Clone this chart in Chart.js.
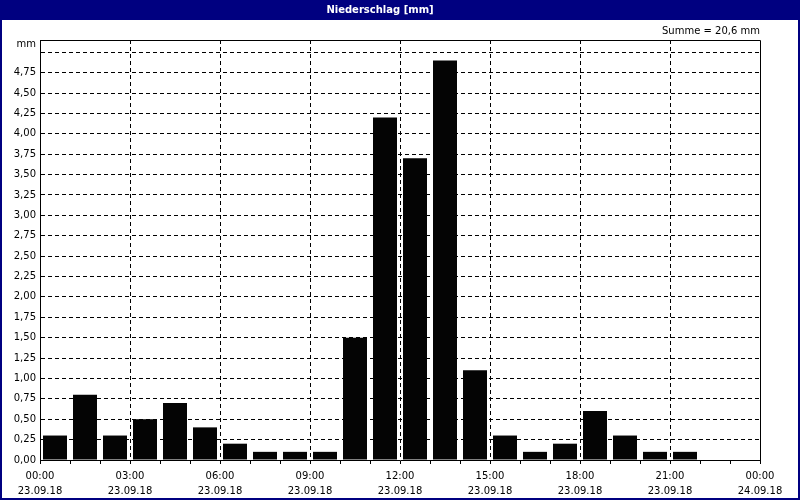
<!DOCTYPE html>
<html>
<head>
<meta charset="utf-8">
<script src="https://cdn.jsdelivr.net/npm/chart.js@4"></script>
<style>
  html, body { margin: 0; padding: 0; background: #fff; }
  #wrap { width: 800px; height: 500px; }
</style>
</head>
<body>
<div id="wrap"><canvas id="regenChart" width="800" height="500"></canvas></div>
<script>
// Stunden (Beginn des Intervalls) und Niederschlag je Stunde in mm
const stunden = [0, 1, 2, 3, 4, 5, 6, 7, 8, 9, 10, 11, 12, 13, 14, 15, 16, 17, 18, 19, 20, 21, 22, 23];
const niederschlag = [0.3, 0.8, 0.3, 0.5, 0.7, 0.4, 0.2, 0.1, 0.1, 0.1, 1.5, 4.2, 3.7, 4.9, 1.1, 0.3, 0.1, 0.2, 0.6, 0.3, 0.1, 0.1, 0, 0];
const datumStart = "23.09.18";
const datumEnde = "24.09.18";
const yTicks = [0, 0.25, 0.5, 0.75, 1, 1.25, 1.5, 1.75, 2, 2.25, 2.5, 2.75, 3, 3.25, 3.5, 3.75, 4, 4.25, 4.5, 4.75, 5];
const einheitPos = 5.09;
const summe = "Summe = 20,6 mm";

const FONT = "'DejaVu Sans', Verdana, sans-serif";

const rahmen = {
    id: "rahmen",
    beforeDraw(chart) {
        const ctx = chart.ctx;
        ctx.save();
        ctx.fillStyle = "#ffffff";
        ctx.fillRect(0, 0, chart.width, chart.height);
        ctx.fillStyle = "#000080";
        ctx.fillRect(0, 0, chart.width, 20);
        ctx.fillRect(0, 0, 2, chart.height);
        ctx.fillRect(chart.width - 2, 0, 2, chart.height);
        ctx.fillRect(0, chart.height - 2, chart.width, 2);
        ctx.restore();
    },
    afterDatasetsDraw(chart) {
        const a = chart.chartArea;
        const ctx = chart.ctx;
        ctx.save();
        ctx.strokeStyle = "#000";
        ctx.lineWidth = 1;
        ctx.beginPath();
        ctx.moveTo(a.left, a.top + 0.5);
        ctx.lineTo(a.right + 0.5, a.top + 0.5);
        ctx.lineTo(a.right + 0.5, a.bottom);
        ctx.stroke();
        ctx.restore();
    }
};

new Chart(document.getElementById("regenChart"), {
    type: "bar",
    data: {
        datasets: [{
            data: stunden.map((h, i) => ({ x: h + 0.5, y: niederschlag[i] })),
            backgroundColor: "#040404",
            borderWidth: 0,
            barPercentage: 0.8,
            categoryPercentage: 1
        }]
    },
    options: {
        responsive: false,
        animation: false,
        devicePixelRatio: 1,
        layout: { padding: { left: 0, right: 40, top: 0, bottom: 0 } },
        plugins: {
            legend: { display: false },
            tooltip: { enabled: false },
            title: {
                display: true,
                text: "Niederschlag [mm]",
                color: "#ffffff",
                font: { family: FONT, size: 10, weight: "bold", lineHeight: 1.2 },
                padding: { top: 4, bottom: 4 }
            },
            subtitle: {
                display: true,
                text: summe,
                align: "end",
                color: "#000",
                font: { family: FONT, size: 10, lineHeight: 1.2 },
                padding: { top: 5, bottom: 3 }
            }
        },
        scales: {
            x: {
                type: "linear",
                min: 0,
                max: 24,
                offset: false,
                afterBuildTicks(scale) {
                    scale.ticks = [];
                    for (let h = 0; h <= 24; h++) scale.ticks.push({ value: h });
                },
                afterFit(scale) { scale.height = 40; },
                ticks: {
                    autoSkip: false,
                    maxRotation: 0,
                    color: "#000",
                    padding: 5,
                    font: { family: FONT, size: 10, lineHeight: 1.5 },
                    callback(v) {
                        if (v % 3 !== 0) return "";
                        const hh = String(v % 24).padStart(2, "0") + ":00";
                        return [hh, v === 24 ? datumEnde : datumStart];
                    }
                },
                grid: {
                    offset: false,
                    drawTicks: true,
                    tickLength: 4,
                    tickColor: "#000",
                    lineWidth: 1,
                    color(c) {
                        const v = c.tick && c.tick.value;
                        return (v % 3 === 0 && v > 0 && v < 24) ? "#000" : "rgba(0,0,0,0)";
                    }
                },
                border: { display: true, color: "#000", width: 1, dash: [4, 3] }
            },
            y: {
                min: 0,
                max: 5.15,
                afterBuildTicks(scale) {
                    scale.ticks = yTicks.map(v => ({ value: v }));
                    scale.ticks.push({ value: einheitPos });
                },
                afterFit(scale) { scale.width = 40; },
                ticks: {
                    color: "#000",
                    padding: 4,
                    font: { family: FONT, size: 10 },
                    callback(v) {
                        if (v === einheitPos) return "mm";
                        if (v === 5) return "";
                        return v.toFixed(2).replace(".", ",");
                    }
                },
                grid: {
                    drawTicks: false,
                    lineWidth: 1,
                    color(c) {
                        const v = c.tick && c.tick.value;
                        return (v > 0 && v <= 5) ? "#000" : "rgba(0,0,0,0)";
                    }
                },
                border: { display: true, color: "#000", width: 1, dash: [4, 3] }
            }
        }
    },
    plugins: [rahmen]
});
</script>
</body>
</html>
